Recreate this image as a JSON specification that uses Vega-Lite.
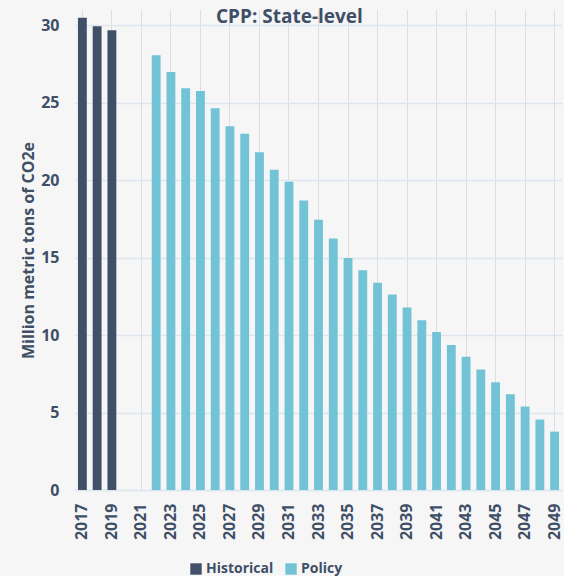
{
  "$schema": "https://vega.github.io/schema/vega-lite/v6.json",
  "width": 487,
  "height": 480,
  "autosize": "none",
  "padding": {"left": 75, "top": 10, "right": 2, "bottom": 86},
  "background": "#f6f6f6",
  "title": {
    "text": "CPP: State-level",
    "anchor": "middle",
    "frame": "bounds",
    "offset": -17,
    "dx": -2,
    "font": "Open Sans",
    "fontSize": 19,
    "fontWeight": "bold",
    "color": "#3e4f66"
  },
  "data": {
    "values": [
      {"year": 2017, "value": 30.5, "type": "Historical"},
      {"year": 2018, "value": 29.95, "type": "Historical"},
      {"year": 2019, "value": 29.7, "type": "Historical"},
      {"year": 2022, "value": 28.07, "type": "Policy"},
      {"year": 2023, "value": 27.0, "type": "Policy"},
      {"year": 2024, "value": 25.94, "type": "Policy"},
      {"year": 2025, "value": 25.77, "type": "Policy"},
      {"year": 2026, "value": 24.65, "type": "Policy"},
      {"year": 2027, "value": 23.5, "type": "Policy"},
      {"year": 2028, "value": 23.0, "type": "Policy"},
      {"year": 2029, "value": 21.82, "type": "Policy"},
      {"year": 2030, "value": 20.69, "type": "Policy"},
      {"year": 2031, "value": 19.9, "type": "Policy"},
      {"year": 2032, "value": 18.7, "type": "Policy"},
      {"year": 2033, "value": 17.45, "type": "Policy"},
      {"year": 2034, "value": 16.25, "type": "Policy"},
      {"year": 2035, "value": 14.99, "type": "Policy"},
      {"year": 2036, "value": 14.2, "type": "Policy"},
      {"year": 2037, "value": 13.38, "type": "Policy"},
      {"year": 2038, "value": 12.63, "type": "Policy"},
      {"year": 2039, "value": 11.79, "type": "Policy"},
      {"year": 2040, "value": 10.97, "type": "Policy"},
      {"year": 2041, "value": 10.2, "type": "Policy"},
      {"year": 2042, "value": 9.37, "type": "Policy"},
      {"year": 2043, "value": 8.6, "type": "Policy"},
      {"year": 2044, "value": 7.78, "type": "Policy"},
      {"year": 2045, "value": 6.96, "type": "Policy"},
      {"year": 2046, "value": 6.19, "type": "Policy"},
      {"year": 2047, "value": 5.39, "type": "Policy"},
      {"year": 2048, "value": 4.55, "type": "Policy"},
      {"year": 2049, "value": 3.77, "type": "Policy"}
    ]
  },
  "mark": {"type": "bar"},
  "encoding": {
    "x": {
      "field": "year",
      "type": "ordinal",
      "scale": {
        "domain": [2017,2018,2019,2020,2021,2022,2023,2024,2025,2026,2027,2028,2029,2030,2031,2032,2033,2034,2035,2036,2037,2038,2039,2040,2041,2042,2043,2044,2045,2046,2047,2048,2049],
        "paddingInner": 0.4,
        "paddingOuter": 0.2
      },
      "axis": {
        "title": null,
        "values": [2017,2019,2021,2023,2025,2027,2029,2031,2033,2035,2037,2039,2041,2043,2045,2047,2049],
        "labelAngle": -90,
        "labelFont": "Open Sans",
        "labelFontSize": 16,
        "labelFontWeight": "bold",
        "labelColor": "#3e4f66",
        "labelPadding": 13,
        "ticks": false,
        "domainColor": "#dde6ee",
        "domainWidth": 1.5
      }
    },
    "y": {
      "field": "value",
      "type": "quantitative",
      "scale": {"domain": [0, 31], "nice": false},
      "axis": {
        "title": "Million metric tons of CO2e",
        "titleFont": "Open Sans",
        "titleFontSize": 16,
        "titleFontWeight": "bold",
        "titleColor": "#3e4f66",
        "titlePadding": 4,
        "values": [0, 5, 10, 15, 20, 25, 30],
        "labelFont": "Open Sans",
        "labelFontSize": 16,
        "labelFontWeight": "bold",
        "labelColor": "#3e4f66",
        "labelPadding": 16,
        "ticks": false,
        "domain": false,
        "gridColor": "#dde6ee",
        "gridWidth": 1.5
      }
    },
    "color": {
      "field": "type",
      "type": "nominal",
      "scale": {"domain": ["Historical", "Policy"], "range": ["#3f5068", "#72c3d6"]},
      "legend": {
        "title": null,
        "orient": "none",
        "direction": "horizontal",
        "legendX": 114,
        "legendY": 552,
        "symbolType": "square",
        "symbolSize": 130,
        "symbolStrokeWidth": 0,
        "symbolOpacity": 1,
        "labelFont": "Open Sans",
        "labelFontSize": 14,
        "labelFontWeight": "bold",
        "labelColor": "#3e4f66",
        "labelOffset": 3,
        "columnPadding": 10
      }
    }
  },
  "config": {
    "view": {"stroke": null},
    "axis": {"grid": true}
  }
}
